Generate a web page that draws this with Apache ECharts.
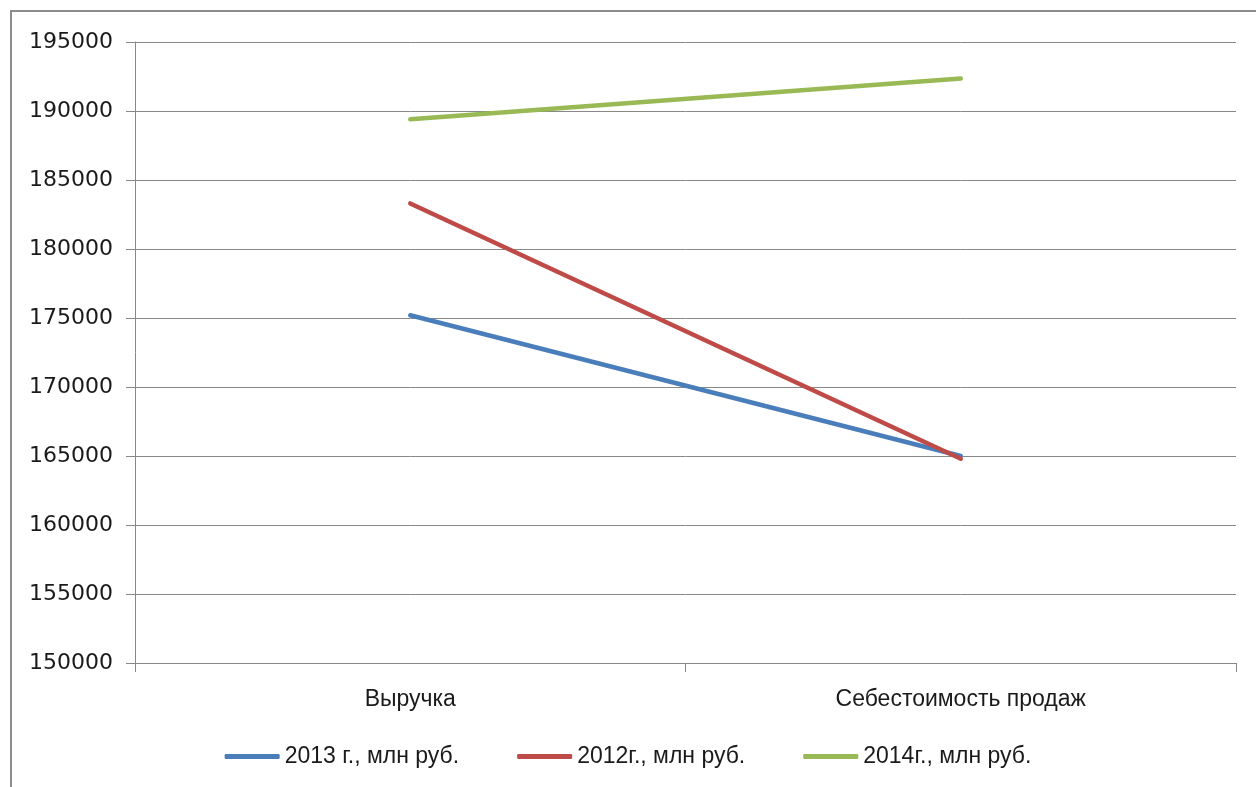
<!DOCTYPE html>
<html>
<head>
<meta charset="utf-8">
<script src="https://cdn.jsdelivr.net/npm/echarts@6/dist/echarts.min.js"></script>
<style>
  html, body { margin: 0; padding: 0; background: #fff; overflow: hidden; }
  #frame {
    position: absolute; left: 10px; top: 10px;
    width: 1300px; height: 820px;
    border: 2px solid #8c8c8c;
    box-sizing: border-box;
  }
  #main { position: absolute; left: 0; top: 0; width: 1256px; height: 787px; }
</style>
</head>
<body>
<div id="frame"></div>
<div id="main"></div>
<script>
// categories and series values
var categories = ['Выручка', 'Себестоимость продаж'];
var seriesNames = ['2013 г., млн руб.', '2012г., млн руб.', '2014г., млн руб.'];
var values2013 = [175200, 165000];
var values2012 = [183300, 164800];
var values2014 = [189400, 192350];

var colors = ['#4a7ebb', '#be4b48', '#98b954'];

var chartDom = document.getElementById('main');
var myChart = echarts.init(chartDom);
var option = {
  animation: false,
  color: colors,
  grid: {
    left: 135,
    right: 20,
    top: 42,
    bottom: 124
  },
  legend: {
    bottom: 14,
    left: 'center',
    itemWidth: 55,
    itemHeight: 5,
    itemGap: 58,
    icon: 'roundRect',
    textStyle: {
      fontFamily: 'Liberation Sans, sans-serif',
      fontSize: 23,
      color: '#1a1a1a'
    },
    data: seriesNames
  },
  xAxis: {
    type: 'category',
    boundaryGap: true,
    data: categories,
    axisLine: { lineStyle: { color: '#888', width: 1 } },
    axisTick: { show: true, length: 9, lineStyle: { color: '#888' } },
    axisLabel: {
      margin: 25,
      fontFamily: 'Liberation Sans, sans-serif',
      fontSize: 23,
      color: '#1a1a1a'
    }
  },
  yAxis: {
    type: 'value',
    min: 150000,
    max: 195000,
    interval: 5000,
    axisLine: { show: true, lineStyle: { color: '#888', width: 1 } },
    axisTick: { show: true, length: 9, lineStyle: { color: '#888' } },
    splitLine: { lineStyle: { color: '#888', width: 1 } },
    axisLabel: {
      margin: 22,
      formatter: function (v) { return String(v); },
      fontFamily: 'DejaVu Sans, sans-serif',
      fontSize: 22,
      color: '#1a1a1a'
    }
  },
  series: [
    {
      name: seriesNames[0],
      type: 'line',
      data: values2013,
      symbol: 'none',
      lineStyle: { width: 4.5, cap: 'round' }
    },
    {
      name: seriesNames[1],
      type: 'line',
      data: values2012,
      symbol: 'none',
      lineStyle: { width: 4.5, cap: 'round' }
    },
    {
      name: seriesNames[2],
      type: 'line',
      data: values2014,
      symbol: 'none',
      lineStyle: { width: 4.5, cap: 'round' }
    }
  ]
};
option && myChart.setOption(option);
</script>
</body>
</html>
